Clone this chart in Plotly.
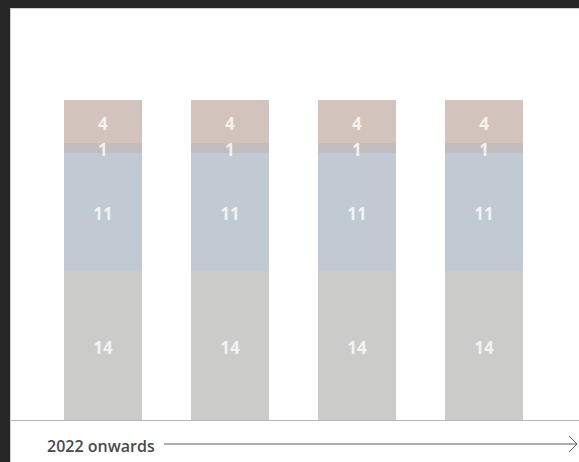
import plotly.graph_objects as go

# Four stacked columns, bottom segment first
stages = ["Stage 1", "Stage 2", "Stage 3", "Stage 4"]
base_values = [14, 14, 14, 14]
middle_values = [11, 11, 11, 11]
thin_values = [1, 1, 1, 1]
top_values = [4, 4, 4, 4]
caption = "2022 onwards"

series = [
    (base_values, "#cbccc9"),
    (middle_values, "#c1c9d2"),
    (thin_values, "#c3bdc0"),
    (top_values, "#d2c4bd"),
]

W, H = 579, 462
ML, MT, MB = 10, 8, 42
plot_w = W - ML
plot_h = H - MT - MB
Y_MAX = 38.62
LABEL_DROP_PX = 4  # nudge labels slightly below the segment middle


def px(x):
    return (x - ML) / plot_w


def py(y):
    return (H - MB - y) / plot_h


fig = go.Figure()
for vals, col in series:
    fig.add_trace(go.Bar(
        x=stages,
        y=vals,
        marker=dict(color=col, line=dict(width=0)),
        width=0.614,
        hoverinfo="skip",
        showlegend=False,
    ))

# value labels, drawn on top of every segment at the segment's middle
drop = LABEL_DROP_PX * Y_MAX / plot_h
lab_x, lab_y, lab_t = [], [], []
running = [0] * len(stages)
for vals, _ in series:
    for i, v in enumerate(vals):
        lab_x.append(stages[i])
        lab_y.append(running[i] + v / 2 - drop)
        lab_t.append(str(v))
        running[i] += v
fig.add_trace(go.Scatter(
    x=lab_x, y=lab_y, text=lab_t, mode="text", textposition="middle center",
    textfont=dict(family="Open Sans", size=17, color="rgba(255,255,255,0.78)", weight="bold"),
    hoverinfo="skip", showlegend=False, cliponaxis=False,
))

shapes = [
    # dark frame along the top and left edges
    dict(type="rect", xref="paper", yref="paper", x0=px(-5), x1=px(W + 5), y0=py(MT), y1=py(-5),
         fillcolor="#262626", line=dict(width=0), layer="above"),
    dict(type="rect", xref="paper", yref="paper", x0=px(-5), x1=px(ML), y0=py(H + 5), y1=py(-5),
         fillcolor="#262626", line=dict(width=0), layer="above"),
    dict(type="line", xref="paper", yref="paper", x0=px(ML + 0.5), x1=px(ML + 0.5), y0=py(MT), y1=py(H + 5),
         line=dict(color="#cfcfcf", width=1), layer="above"),
    dict(type="line", xref="paper", yref="paper", x0=px(ML), x1=px(W + 5), y0=py(MT + 0.5), y1=py(MT + 0.5),
         line=dict(color="#cfcfcf", width=1), layer="above"),
    # timeline arrow next to the caption
    dict(type="line", xref="paper", yref="paper", x0=px(164), x1=px(577), y0=py(444), y1=py(444),
         line=dict(color="#5a5a5a", width=1)),
    dict(type="line", xref="paper", yref="paper", x0=px(569), x1=px(577), y0=py(436), y1=py(444),
         line=dict(color="#5a5a5a", width=1)),
    dict(type="line", xref="paper", yref="paper", x0=px(569), x1=px(577), y0=py(452), y1=py(444),
         line=dict(color="#5a5a5a", width=1)),
]

fig.update_layout(
    width=W,
    height=H,
    margin=dict(l=ML, r=0, t=MT, b=MB, pad=0),
    paper_bgcolor="white",
    plot_bgcolor="white",
    barmode="stack",
    bargap=0,
    shapes=shapes,
    annotations=[dict(
        text=caption, xref="paper", yref="paper", x=px(45), y=py(446),
        xanchor="left", yanchor="middle", showarrow=False,
        font=dict(family="Open Sans", size=16, color="#4a4a4a", weight=600),
    )],
    xaxis=dict(
        range=[-0.732, 3.748], showticklabels=False, ticks="", showgrid=False,
        zeroline=False, showline=True, linecolor="#b5b5b5", linewidth=1,
    ),
    yaxis=dict(
        range=[0, Y_MAX], showticklabels=False, ticks="", showgrid=False,
        zeroline=False, showline=False,
    ),
)

fig.write_html("out.html")
